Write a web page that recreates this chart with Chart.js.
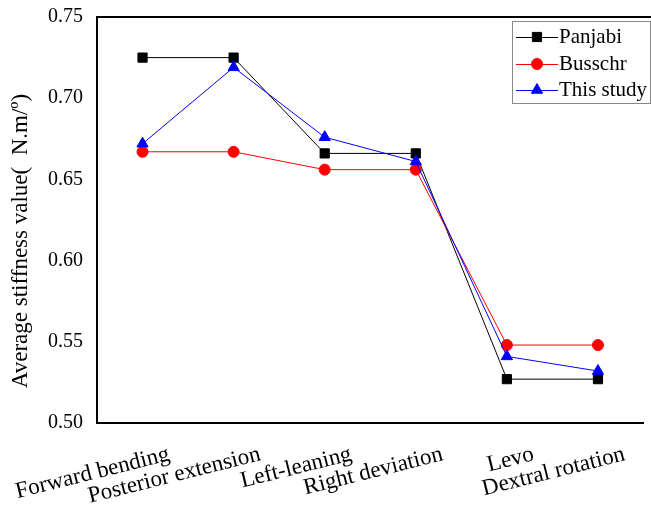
<!DOCTYPE html>
<html>
<head>
<meta charset="utf-8">
<script src="https://cdn.jsdelivr.net/npm/chart.js@4"></script>
<style>
  body { margin: 0; background: #fff; }
  canvas { display: block; }
</style>
</head>
<body>
<canvas id="stiffChart" width="651" height="507"></canvas>
<script>
const categories = ["Forward bending", "Posterior extension", "Left-leaning", "Right deviation", "Levo", "Dextral rotation"];
const panjabi = [0.725, 0.725, 0.666, 0.666, 0.527, 0.527];
const busschr = [0.667, 0.667, 0.656, 0.656, 0.548, 0.548];
const thisStudy = [0.672, 0.719, 0.676, 0.661, 0.541, 0.532];
const yTicks = [0.50, 0.55, 0.60, 0.65, 0.70, 0.75];
const yTitle = "Average stiffness value(  N.m/º)";

const serif = "'Liberation Serif', 'Times New Roman', serif";

// top frame line, slanted category labels, y title and boxed legend
const extras = {
    id: "extras",
    afterDraw(chart) {
        const ctx = chart.ctx;
        const area = chart.chartArea;
        const x = chart.scales.x;

        ctx.save();
        ctx.strokeStyle = "#000";
        ctx.lineWidth = 2;
        ctx.beginPath();
        ctx.moveTo(area.left - 1, area.top);
        ctx.lineTo(chart.width, area.top);
        ctx.stroke();

        ctx.fillStyle = "#000";
        ctx.font = "23px " + serif;
        ctx.textAlign = "right";
        ctx.textBaseline = "alphabetic";
        categories.forEach((c, i) => {
            ctx.save();
            ctx.translate(x.getPixelForValue(i) + 28, area.bottom + 37);
            ctx.rotate(-14 * Math.PI / 180);
            ctx.fillText(c, 0, 0);
            ctx.restore();
        });

        ctx.save();
        ctx.font = "23px " + serif;
        ctx.textAlign = "center";
        ctx.textBaseline = "middle";
        ctx.translate(21, 241);
        ctx.rotate(-Math.PI / 2);
        ctx.fillText(yTitle, 0, 0);
        ctx.restore();

        // legend
        ctx.lineWidth = 1;
        ctx.strokeStyle = "#888";
        ctx.strokeRect(512.5, 21.5, 138, 82);
        ctx.font = "21px " + serif;
        ctx.textAlign = "left";
        ctx.textBaseline = "middle";
        const rows = [37, 64, 90];
        chart.data.datasets.forEach((ds, i) => {
            const y = rows[i];
            ctx.strokeStyle = ds.borderColor;
            ctx.lineWidth = 1;
            ctx.beginPath();
            ctx.moveTo(516, y + 0.5);
            ctx.lineTo(558, y + 0.5);
            ctx.stroke();
            ctx.fillStyle = ds.pointBackgroundColor;
            ctx.strokeStyle = ds.pointBackgroundColor;
            Chart.helpers.drawPoint(ctx, {
                pointStyle: ds.pointStyle,
                radius: ds.pointRadius,
                rotation: 0,
                borderWidth: 1
            }, 537, y);
            ctx.fillStyle = "#000";
            ctx.fillText(ds.label, 559, y);
        });
        ctx.restore();
    }
};

new Chart(document.getElementById("stiffChart").getContext("2d"), {
    type: "line",
    data: {
        labels: categories,
        datasets: [
            {
                label: "Panjabi",
                data: panjabi,
                borderColor: "#000000",
                borderWidth: 1,
                pointStyle: "rect",
                pointRadius: 6.5,
                pointBackgroundColor: "#000000",
                pointBorderColor: "#000000",
                pointBorderWidth: 1,
                order: 2
            },
            {
                label: "Busschr",
                data: busschr,
                borderColor: "#ff0000",
                borderWidth: 1,
                pointStyle: "circle",
                pointRadius: 5.5,
                pointBackgroundColor: "#ff0000",
                pointBorderColor: "#ff0000",
                pointBorderWidth: 1,
                order: 1
            },
            {
                label: "This study",
                data: thisStudy,
                borderColor: "#0000ff",
                borderWidth: 1,
                pointStyle: "triangle",
                pointRadius: 6.5,
                pointBackgroundColor: "#0000ff",
                pointBorderColor: "#0000ff",
                pointBorderWidth: 1,
                order: 0
            }
        ]
    },
    options: {
        responsive: false,
        animation: false,
        layout: { padding: { top: 17, left: 0, right: 0, bottom: 0 } },
        plugins: {
            legend: { display: false },
            tooltip: { enabled: false }
        },
        elements: { line: { tension: 0 } },
        scales: {
            x: {
                type: "category",
                offset: true,
                grid: { display: false },
                border: { display: true, color: "#000", width: 2 },
                ticks: { display: false },
                afterFit: (s) => { s.height = 84; }
            },
            y: {
                min: 0.5,
                max: 0.75,
                grid: { display: false, drawTicks: false },
                border: { display: true, color: "#000", width: 2 },
                afterBuildTicks: (s) => { s.ticks = yTicks.map(v => ({ value: v })); },
                ticks: {
                    color: "#000",
                    padding: 14,
                    font: { family: serif, size: 20 },
                    callback: (v) => v.toFixed(2)
                },
                afterFit: (s) => {
                    s.width = 97;
                    s.paddingTop = 0;
                    s.paddingBottom = 0;
                }
            }
        }
    },
    plugins: [extras]
});
</script>
</body>
</html>
